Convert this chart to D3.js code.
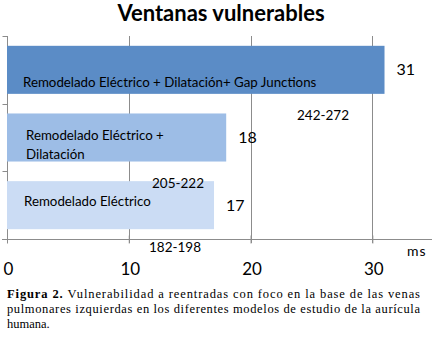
<!DOCTYPE html>
<html>
<head>
<meta charset="utf-8">
<script src="https://cdn.jsdelivr.net/npm/d3@7"></script>
<style>
  html, body { margin: 0; padding: 0; background: #fff; }
  svg { display: block; }
</style>
</head>
<body>
<div id="chart"></div>
<script>
// Chart data
const categories = ['RE+D+GJ', 'RE+D', 'RE'];
const values = [31, 18, 17];
const barLabels = [
  ['Remodelado Eléctrico + Dilatación+ Gap Junctions'],
  ['Remodelado Eléctrico +', 'Dilatación'],
  ['Remodelado Eléctrico']
];
const barColors = ['#5b8cc6', '#9dbde6', '#cbdcf4'];
const rangeLabels = ['242-272', '205-222', '182-198'];
const xTicks = [0, 10, 20, 30];
const titleText = 'Ventanas vulnerables';
const unitText = 'ms';
const captionLines = [
  'Vulnerabilidad a reentradas con foco en la base de las venas',
  'pulmonares izquierdas en los diferentes modelos de estudio de la aurícula',
  'humana.'
];

const width = 434, height = 337;
const sans = 'Lato, "Open Sans", sans-serif';

const svg = d3.select('#chart')
  .append('svg')
  .attr('width', width)
  .attr('height', height);

// Scales
const x = d3.scaleLinear().domain([0, 34.9]).range([7, 432]);
const y = d3.scaleBand()
  .domain(categories)
  .range([36, 239])
  .paddingInner(0.29)
  .paddingOuter(0.145);

// Title
svg.append('text')
  .attr('x', 221)
  .attr('y', 21)
  .attr('text-anchor', 'middle')
  .attr('font-family', sans)
  .attr('font-weight', 'bold')
  .attr('font-size', 22)
  .attr('fill', '#000')
  .text(titleText);

// Vertical grid lines
svg.append('g')
  .selectAll('line')
  .data(xTicks.slice(1))
  .join('line')
  .attr('x1', d => Math.round(x(d)) + 0.5).attr('x2', d => Math.round(x(d)) + 0.5)
  .attr('y1', 36).attr('y2', 243)
  .attr('stroke', '#8c8c8c')
  .attr('stroke-width', 1);

// Bottom axis
const xAxis = svg.append('g')
  .attr('transform', 'translate(0,239.5)')
  .call(d3.axisBottom(x).tickValues(xTicks).tickSize(4).tickSizeOuter(0));
xAxis.select('.domain').attr('stroke', '#8c8c8c').attr('d', 'M2,0H432');
xAxis.selectAll('.tick line').attr('stroke', '#8c8c8c').attr('y1', -4);
xAxis.selectAll('.tick text')
  .attr('y', 0)
  .attr('dy', 0)
  .attr('transform', 'translate(1,35)')
  .attr('font-family', sans)
  .attr('font-size', 17)
  .attr('fill', '#000');

// Left axis
const yAxis = svg.append('g')
  .attr('transform', 'translate(7.5,0)')
  .call(d3.axisLeft(y).tickValues([]).tickSizeOuter(0));
yAxis.select('.domain').attr('stroke', '#8c8c8c').attr('d', 'M0,36V243');
const bandEdges = categories.map(c => y(c) - y.step() * y.paddingOuter()).concat([239]);
yAxis.selectAll('.edge')
  .data(bandEdges)
  .join('line')
  .attr('class', 'edge')
  .attr('x1', -5).attr('x2', 0)
  .attr('y1', d => Math.round(d) + 0.5).attr('y2', d => Math.round(d) + 0.5)
  .attr('stroke', '#8c8c8c');

// Bars
svg.append('g')
  .selectAll('rect')
  .data(values)
  .join('rect')
  .attr('x', x(0))
  .attr('y', (d, i) => y(categories[i]))
  .attr('width', d => x(d) - x(0))
  .attr('height', y.bandwidth())
  .attr('fill', (d, i) => barColors[i]);

// Labels inside bars
const labelLayout = [
  { dx: 16, baselines: [41] },
  { dx: 19, baselines: [27, 46] },
  { dx: 17, baselines: [25] }
];
barLabels.forEach((lines, i) => {
  const t = svg.append('text')
    .attr('font-family', sans)
    .attr('font-size', 13.3)
    .attr('fill', '#000');
  lines.forEach((line, j) => {
    t.append('tspan')
      .attr('x', x(0) + labelLayout[i].dx)
      .attr('y', y(categories[i]) + labelLayout[i].baselines[j])
      .text(line);
  });
});

// Value labels
svg.append('g')
  .selectAll('text')
  .data(values)
  .join('text')
  .attr('x', d => x(d) + 12)
  .attr('y', (d, i) => y(categories[i]) + y.bandwidth() / 2)
  .attr('dy', '0.35em')
  .attr('font-family', sans)
  .attr('font-size', 16)
  .attr('fill', '#000')
  .text(d => d);

// Range annotations
const rangePos = [[323, 120], [178, 188], [175, 252]];
svg.append('g')
  .selectAll('text')
  .data(rangeLabels)
  .join('text')
  .attr('x', (d, i) => rangePos[i][0])
  .attr('y', (d, i) => rangePos[i][1])
  .attr('text-anchor', 'middle')
  .attr('font-family', sans)
  .attr('font-size', 13.5)
  .attr('fill', '#000')
  .text(d => d);

// Unit label
svg.append('text')
  .attr('x', 407)
  .attr('y', 256)
  .attr('font-family', sans)
  .attr('font-size', 14)
  .attr('letter-spacing', 1)
  .attr('fill', '#000')
  .text(unitText);

// Caption
const serif = '"Liberation Serif", "DejaVu Serif", serif';
const cap = svg.append('g')
  .attr('font-family', serif)
  .attr('font-size', 12.5)
  .attr('fill', '#000');
const l1 = cap.append('text').attr('x', 7).attr('y', 298)
  .attr('textLength', 413).attr('lengthAdjust', 'spacing');
l1.append('tspan').attr('font-weight', 'bold').text('Figura 2. ');
l1.append('tspan').text(captionLines[0]);
cap.append('text').attr('x', 7).attr('y', 313)
  .attr('textLength', 413).attr('lengthAdjust', 'spacing')
  .text(captionLines[1]);
cap.append('text').attr('x', 7).attr('y', 328)
  .text(captionLines[2]);
</script>
</body>
</html>
